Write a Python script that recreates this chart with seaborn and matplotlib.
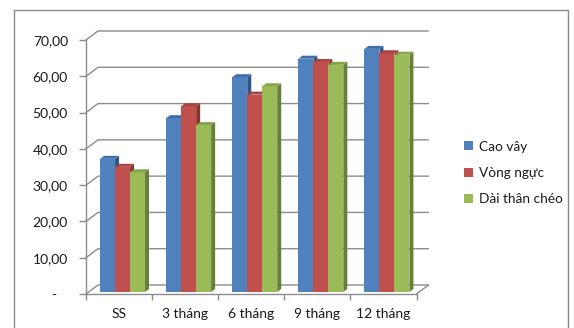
import numpy as np
import pandas as pd
import matplotlib
matplotlib.use("Agg")
import matplotlib.pyplot as plt
from matplotlib.lines import Line2D
from matplotlib.patches import Polygon, Patch
import seaborn as sns

# Data
categories = ["SS", "3 tháng", "6 tháng", "9 tháng", "12 tháng"]
series_names = ["Cao vây", "Vòng ngực", "Dài thân chéo"]
cao_vay = [36.7, 47.9, 59.2, 64.3, 67.0]
vong_nguc = [34.5, 51.2, 54.4, 63.4, 65.8]
dai_than_cheo = [33.0, 46.0, 56.7, 62.6, 65.4]
y_ticks = [0, 10, 20, 30, 40, 50, 60, 70]

front_colors = ["#4F81BD", "#C0504D", "#9BBB59"]
top_colors = ["#3F6FA8", "#A94542", "#86A54A"]
side_colors = ["#2F5689", "#8A3431", "#66803A"]

df = pd.DataFrame({
    "cat": np.repeat(categories, 3),
    "series": series_names * len(categories),
    "val": [v for trio in zip(cao_vay, vong_nguc, dai_than_cheo) for v in trio],
})

sns.set_theme(style="white")
plt.rcParams["font.family"] = ["Lato", "DejaVu Sans"]

W, H = 574, 328
fig = plt.figure(figsize=(W / 100, H / 100), dpi=100)
ax_l, ax_r, ax_t, ax_b = 86, 416.5, 40, 294
ax = fig.add_axes([ax_l / W, 1 - ax_b / H, (ax_r - ax_l) / W, (ax_b - ax_t) / H])

sns.barplot(data=df, x="cat", y="val", hue="series", order=categories,
            hue_order=series_names, palette=front_colors, saturation=1,
            width=0.68, linewidth=0, legend=False, ax=ax, errorbar=None)

ax.set_xlim(-0.5, len(categories) - 0.5)
ax.set_ylim(0, 70)

# pixel -> data conversion
px_x = (ax_r - ax_l) / len(categories)
px_y = (ax_b - ax_t) / 70.0
def dx(p):
    return p / px_x
def dy(p):
    return p / px_y

grid_c = "#8C8C8C"
wall_dx, wall_dy = dx(12), dy(9)
x0, x1 = -0.5, len(categories) - 0.5

# back wall gridlines with side-wall diagonals
for yv in y_ticks:
    ax.add_line(Line2D([x0, x0 + wall_dx, x1 + wall_dx], [yv, yv + wall_dy, yv + wall_dy],
                       color=grid_c, lw=1.0, zorder=0.5, clip_on=False))
# floor right edge
ax.add_line(Line2D([x1, x1 + wall_dx], [0, wall_dy], color=grid_c, lw=1.0,
                   zorder=0.5, clip_on=False))

# 3D-looking bars: shift front faces slightly back, add side and top faces
shift_x, shift_y = dx(3.5), dy(2)
depth_x, depth_y = dx(4), dy(3)
n_cat = len(categories)
for i, bar in enumerate(ax.patches[: n_cat * 3]):
    h_idx = i // n_cat
    c_idx = i % n_cat
    z = 2 + (c_idx * 3 + h_idx) * 0.01
    bar.set_x(bar.get_x() + shift_x)
    bar.set_y(shift_y)
    bar.set_zorder(z)
    bar.set_clip_on(False)
    xl = bar.get_x()
    xr = xl + bar.get_width()
    yb = bar.get_y()
    yt = yb + bar.get_height()
    side = Polygon([(xr, yb), (xr + depth_x, yb + depth_y), (xr + depth_x, yt + depth_y), (xr, yt)],
                   closed=True, facecolor=side_colors[h_idx], edgecolor="none",
                   zorder=z, clip_on=False)
    top = Polygon([(xl, yt), (xr, yt), (xr + depth_x, yt + depth_y), (xl + depth_x, yt + depth_y)],
                  closed=True, facecolor=top_colors[h_idx], edgecolor="none",
                  zorder=z, clip_on=False)
    ax.add_patch(side)
    ax.add_patch(top)

# axes styling
for s in ["top", "right"]:
    ax.spines[s].set_visible(False)
for s in ["left", "bottom"]:
    ax.spines[s].set_color(grid_c)
    ax.spines[s].set_linewidth(1.0)
    ax.spines[s].set_zorder(1)

ax.set_yticks(y_ticks)
ax.set_yticklabels(["-   " if v == 0 else f"{v:.2f}".replace(".", ",") for v in y_ticks])
ax.tick_params(axis="y", length=5, width=1, color=grid_c, pad=8, labelsize=10,
               labelcolor="#1a1a1a", left=True)
ax.set_xticks(range(n_cat))
ax.set_xticklabels(categories)
ax.tick_params(axis="x", which="major", length=0, pad=10, labelsize=10, labelcolor="#1a1a1a")
ax.set_xticks(np.arange(-0.5, n_cat, 1.0), minor=True)
ax.tick_params(axis="x", which="minor", length=4, width=1, color=grid_c, bottom=True)
ax.set_xlabel("")
ax.set_ylabel("")
ax.grid(False)

# legend
handles = [Patch(facecolor=c, edgecolor="none") for c in front_colors]
fig.legend(handles, series_names, loc="center left", bbox_to_anchor=(452 / W, 1 - 173 / H),
           frameon=False, fontsize=9.8, handlelength=0.65, handleheight=0.65,
           handletextpad=0.4, labelspacing=1.05, labelcolor="#1a1a1a")

# outer chart border
bc = "#8A8A8A"
fig.add_artist(Line2D([14 / W, 14 / W, 568 / W, 568 / W], [0, 1 - 10 / H, 1 - 10 / H, 0],
                      color=bc, lw=1.0, transform=fig.transFigure))

fig.savefig("out.png", dpi=100, facecolor="white")
